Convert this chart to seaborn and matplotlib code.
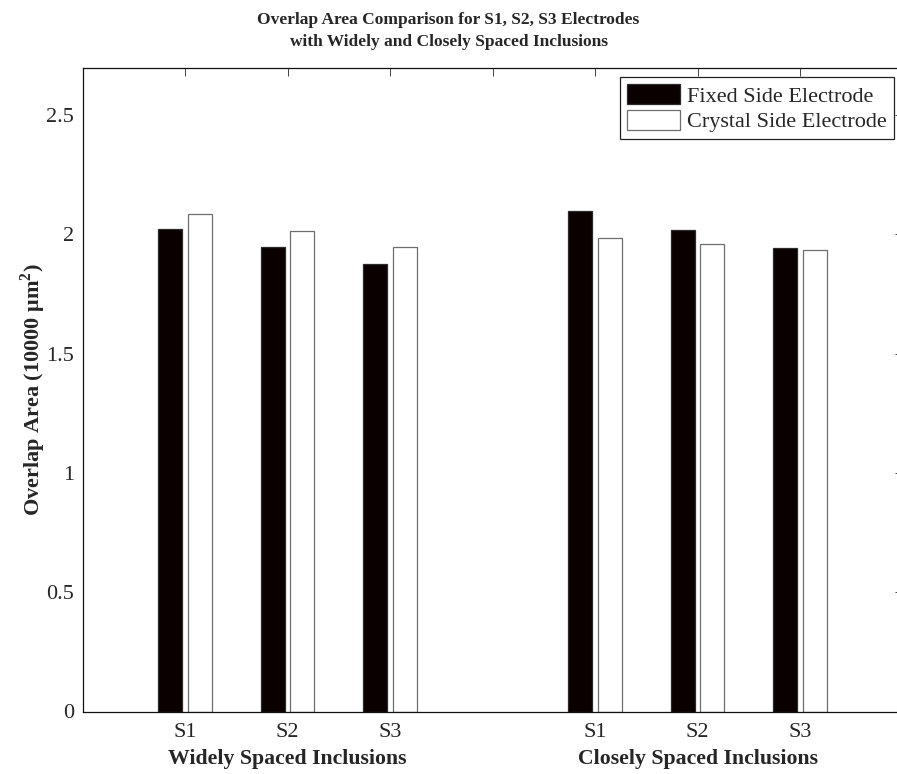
import matplotlib
matplotlib.use("Agg")
import matplotlib.pyplot as plt
from matplotlib.patches import Patch
from matplotlib.ticker import FuncFormatter
import seaborn as sns
import pandas as pd

# ---- data ----
sensors = ["S1", "S2", "S3", "S1", "S2", "S3"]
group_names = ["Widely Spaced Inclusions", "Closely Spaced Inclusions"]
group_of_bar = [0, 0, 0, 1, 1, 1]
positions = [1, 2, 3, 5, 6, 7]
fixed_side = [2.022, 1.948, 1.878, 2.099, 2.019, 1.944]
crystal_side = [2.085, 2.014, 1.947, 1.987, 1.961, 1.936]
series_names = ["Fixed Side Electrode", "Crystal Side Electrode"]
series_face = ["#0a0000", "#ffffff"]
series_edge = ["#2a2a2a", "#6e6e6e"]
yticks = [0, 0.5, 1, 1.5, 2, 2.5]

sns.set_theme(style="white")
plt.rcParams["font.family"] = ["Liberation Serif", "DejaVu Serif"]
plt.rcParams["mathtext.fontset"] = "custom"
plt.rcParams["mathtext.rm"] = "Liberation Serif"
plt.rcParams["mathtext.bf"] = "Liberation Serif:bold"

df = pd.DataFrame({
    "pos": positions * 2,
    "value": fixed_side + crystal_side,
    "series": [series_names[0]] * len(positions) + [series_names[1]] * len(positions),
})

fig = plt.figure(figsize=(8.97, 7.74), dpi=100)
ax = fig.add_axes([82.5 / 897, 1 - 711.5 / 774, (902.5 - 82.5) / 897, (711.5 - 67.5) / 774])

sns.barplot(data=df, x="pos", y="value", hue="series", hue_order=series_names,
            palette=series_face, native_scale=True, width=0.576, gap=0.19,
            errorbar=None, legend=False, ax=ax, saturation=1)

# edge colours per series
for cont, ec in zip(ax.containers, series_edge):
    for bar in cont:
        bar.set_edgecolor(ec)
        bar.set_linewidth(0.9)

ax.set_xlim(0, 8)
ax.set_ylim(0, 2.7)
ax.set_xticks([1, 2, 3, 4, 5, 6, 7])
ax.set_xticklabels(sensors[:3] + [""] + sensors[3:])
ax.set_yticks(yticks)
ax.yaxis.set_major_formatter(FuncFormatter(lambda v, p: f"{v:g}"))
ax.tick_params(direction="in", top=True, right=True, length=6, width=0.7,
               color="#444444", labelsize=16)
ax.tick_params(axis="x", pad=8)
ax.tick_params(axis="y", pad=6)
ax.set_xlabel("")
ax.set_ylabel(r"Overlap Area (10000 μm$^{\mathbf{2}}$)", fontsize=16,
              fontweight="bold", labelpad=-1.5)
for s in ax.spines.values():
    s.set_color("#111111")
    s.set_linewidth(0.9)

# group labels
grp_centers = [sum(p for p, g in zip(positions, group_of_bar) if g == k) / 3 for k in range(2)]
for k, name in enumerate(group_names):
    ax.text(grp_centers[k], -0.073, name, transform=ax.get_xaxis_transform(),
            ha="center", va="center", fontsize=15.7, fontweight="bold")

# title
fig.text(0.5, 1 - 31 / 774, "Overlap Area Comparison for S1, S2, S3 Electrodes\nwith Widely and Closely Spaced Inclusions",
         ha="center", va="center", fontsize=12.5, fontweight="bold", linespacing=1.5)

handles = [Patch(facecolor=f, edgecolor=e, linewidth=0.9) for f, e in zip(series_face, series_edge)]
leg = ax.legend(handles, series_names, loc="upper right",
                bbox_to_anchor=(893.5 / 897, 1 - 77.3 / 774), bbox_transform=fig.transFigure,
                borderaxespad=0, fontsize=16, frameon=True, fancybox=False,
                framealpha=1, edgecolor="#222222", handlelength=2.4, handleheight=1.0,
                handletextpad=0.3, labelspacing=0.15, borderpad=0.3)
leg.get_frame().set_linewidth(0.9)

fig.savefig("out.png", dpi=100)
